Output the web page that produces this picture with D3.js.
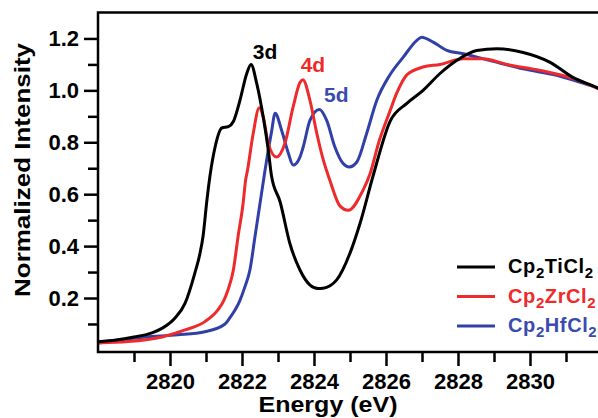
<!DOCTYPE html>
<html>
<head>
<meta charset="utf-8">
<script src="https://cdn.jsdelivr.net/npm/d3@7"></script>
<style>
  html, body { margin: 0; padding: 0; background: #fff; }
  svg { display: block; font-family: "Liberation Sans", Arial, sans-serif; font-weight: bold; }
</style>
</head>
<body>
<svg id="chart" width="598" height="418"></svg>
<script>
// [energy (eV), normalized intensity]
const cp2TiCl2 = [
  [2818.0, 0.031], [2818.5, 0.038], [2819.0, 0.05], [2819.5, 0.066], [2819.8, 0.085],
  [2820.14, 0.123], [2820.42, 0.18], [2820.69, 0.296], [2820.83, 0.37], [2820.92, 0.44],
  [2821.02, 0.57], [2821.11, 0.67], [2821.25, 0.78], [2821.44, 0.855], [2821.62, 0.86],
  [2821.76, 0.88], [2821.94, 0.96], [2822.13, 1.064], [2822.25, 1.1], [2822.41, 1.026],
  [2822.59, 0.897], [2822.73, 0.77], [2822.82, 0.67], [2823.06, 0.57], [2823.33, 0.41],
  [2823.61, 0.308], [2823.89, 0.25], [2824.11, 0.237], [2824.25, 0.238], [2824.63, 0.27],
  [2825.0, 0.373], [2825.28, 0.488], [2825.64, 0.67], [2826.11, 0.88], [2826.58, 0.95],
  [2827.03, 1.0], [2827.5, 1.065], [2827.96, 1.115], [2828.52, 1.154], [2829.08, 1.16],
  [2829.81, 1.146], [2830.56, 1.108], [2831.19, 1.05], [2831.86, 1.01], [2832.0, 1.0],
];
const cp2ZrCl2 = [
  [2818.0, 0.027], [2818.83, 0.032], [2819.78, 0.05], [2820.42, 0.077], [2820.97, 0.109],
  [2821.33, 0.154], [2821.5, 0.192], [2821.61, 0.231], [2821.76, 0.308], [2821.89, 0.436],
  [2822.03, 0.564], [2822.1, 0.654], [2822.15, 0.69], [2822.31, 0.833], [2822.48, 0.933],
  [2822.59, 0.897], [2822.73, 0.795], [2822.96, 0.743], [2823.19, 0.795], [2823.42, 0.936],
  [2823.61, 1.03], [2823.69, 1.041], [2823.89, 0.96], [2824.08, 0.833], [2824.26, 0.731],
  [2824.44, 0.654], [2824.72, 0.555], [2824.95, 0.538], [2825.36, 0.615], [2825.56, 0.68],
  [2825.8, 0.8], [2826.11, 0.92], [2826.3, 0.99], [2826.58, 1.06], [2827.03, 1.09],
  [2827.5, 1.1], [2828.14, 1.122], [2828.69, 1.122], [2829.35, 1.1], [2830.28, 1.077],
  [2831.19, 1.046], [2832.0, 1.0],
];
const cp2HfCl2 = [
  [2818.0, 0.027], [2819.31, 0.05], [2820.22, 0.058], [2820.97, 0.07], [2821.53, 0.1],
  [2821.67, 0.125], [2821.94, 0.19], [2822.08, 0.243], [2822.22, 0.308], [2822.36, 0.436],
  [2822.5, 0.564], [2822.64, 0.692], [2822.73, 0.77], [2822.82, 0.84], [2822.92, 0.912],
  [2823.1, 0.846], [2823.29, 0.757], [2823.42, 0.712], [2823.61, 0.743], [2823.7, 0.782],
  [2823.89, 0.885], [2824.15, 0.926], [2824.35, 0.885], [2824.58, 0.782], [2824.81, 0.718],
  [2824.98, 0.705], [2825.19, 0.724], [2825.46, 0.833], [2825.74, 0.96], [2826.11, 1.06],
  [2826.48, 1.128], [2826.85, 1.192], [2826.99, 1.205], [2827.31, 1.186], [2827.69, 1.154],
  [2828.15, 1.141], [2828.89, 1.115], [2829.81, 1.083], [2830.74, 1.058], [2831.67, 1.019],
  [2832.0, 1.005],
];

const xMajorTicks = [2820, 2822, 2824, 2826, 2828, 2830];
const xMinorTicks = [2819, 2821, 2823, 2825, 2827, 2829, 2831];
const yMajorTicks = [0.2, 0.4, 0.6, 0.8, 1.0, 1.2];
const yMinorTicks = [0.1, 0.3, 0.5, 0.7, 0.9, 1.1];

const peakLabels = [
  { text: "3d", x: 2822.64, y: 1.12, color: "#000000" },
  { text: "4d", x: 2823.97, y: 1.07, color: "#ee2a2a" },
  { text: "5d", x: 2824.62, y: 0.955, color: "#3a4bb0" },
];

const series = [
  { metal: "Ti", data: cp2TiCl2, color: "#000000" },
  { metal: "Zr", data: cp2ZrCl2, color: "#ee2a2a" },
  { metal: "Hf", data: cp2HfCl2, color: "#3140a8" },
];

const svg = d3.select("#chart");
const margin = { top: 12.5, left: 98 };
const plotRight = 602;
const plotBottom = 352;

const x = d3.scaleLinear().domain([2818, 2832]).range([margin.left, plotRight]);
const y = d3.scaleLinear().domain([-0.008, 1.3]).range([plotBottom, margin.top]);

svg.append("defs")
  .append("clipPath")
  .attr("id", "plotClip")
  .append("rect")
  .attr("x", margin.left)
  .attr("y", margin.top)
  .attr("width", plotRight - margin.left)
  .attr("height", plotBottom - margin.top);

const line = d3.line()
  .x((d) => x(d[0]))
  .y((d) => y(d[1]))
  .curve(d3.curveMonotoneX);

// draw black last so it sits on top like the original
svg.append("g")
  .attr("clip-path", "url(#plotClip)")
  .selectAll("path")
  .data(series.slice().reverse())
  .join("path")
  .attr("d", (d) => line(d.data))
  .attr("fill", "none")
  .attr("stroke", (d) => d.color)
  .attr("stroke-width", 3)
  .attr("stroke-linejoin", "round");

function styleAxis(g) {
  g.select(".domain").remove();
  g.selectAll(".tick line").attr("stroke", "#000").attr("stroke-width", 2.5);
  g.selectAll(".tick text")
    .attr("fill", "#000")
    .style("font-size", "22px")
    .style("font-weight", "bold");
}

svg.append("g")
  .attr("transform", `translate(${margin.left},0)`)
  .call(d3.axisLeft(y).tickValues(yMajorTicks).tickSize(14).tickPadding(5).tickFormat(d3.format(".1f")))
  .call(styleAxis);

svg.append("g")
  .attr("transform", `translate(${margin.left},0)`)
  .call(d3.axisLeft(y).tickValues(yMinorTicks).tickSize(10).tickFormat(""))
  .call(styleAxis);

svg.append("g")
  .attr("transform", `translate(0,${plotBottom})`)
  .call(d3.axisBottom(x).tickValues(xMajorTicks).tickSize(14).tickPadding(7).tickFormat(d3.format("d")))
  .call(styleAxis);

svg.append("g")
  .attr("transform", `translate(0,${plotBottom})`)
  .call(d3.axisBottom(x).tickValues(xMinorTicks).tickSize(10).tickFormat(""))
  .call(styleAxis);

// frame: left, top, bottom (right side runs off the picture)
svg.append("path")
  .attr("d", `M${plotRight},${margin.top}H${margin.left}V${plotBottom}H${plotRight}`)
  .attr("fill", "none")
  .attr("stroke", "#000")
  .attr("stroke-width", 2.5);

svg.append("text")
  .attr("x", 328)
  .attr("y", 412)
  .attr("text-anchor", "middle")
  .attr("textLength", 139)
  .attr("lengthAdjust", "spacingAndGlyphs")
  .style("font-size", "22px")
  .text("Energy (eV)");

svg.append("text")
  .attr("transform", "translate(30,170) rotate(-90)")
  .attr("text-anchor", "middle")
  .attr("textLength", 254)
  .attr("lengthAdjust", "spacingAndGlyphs")
  .style("font-size", "22px")
  .text("Normalized Intensity");

svg.append("g")
  .selectAll("text")
  .data(peakLabels)
  .join("text")
  .attr("x", (d) => x(d.x))
  .attr("y", (d) => y(d.y))
  .attr("text-anchor", "middle")
  .attr("fill", (d) => d.color)
  .style("font-size", "21px")
  .text((d) => d.text);

const legend = svg.append("g").attr("transform", "translate(457,267)");
const legendRow = legend.selectAll("g")
  .data(series)
  .join("g")
  .attr("transform", (d, i) => `translate(0,${i * 29.5})`);

legendRow.append("line")
  .attr("x1", 0)
  .attr("x2", 38)
  .attr("stroke", (d) => d.color)
  .attr("stroke-width", 3);

const legendText = legendRow.append("text")
  .attr("x", 51)
  .attr("y", 6)
  .attr("fill", (d) => (d.metal === "Hf" ? "#3a4bb0" : d.color))
  .style("font-size", "20px")
  .style("letter-spacing", "0.6px");

legendText.append("tspan").text("Cp");
legendText.append("tspan").attr("dy", 5).style("font-size", "15px").text("2");
legendText.append("tspan").attr("dy", -5).text((d) => `${d.metal}Cl`);
legendText.append("tspan").attr("dy", 5).style("font-size", "15px").text("2");
</script>
</body>
</html>
